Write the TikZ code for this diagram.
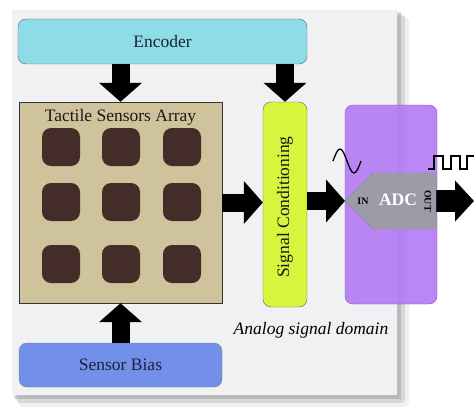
\documentclass[tikz,border=0pt]{standalone}
\usepackage{fontspec}
\setmainfont{Liberation Serif}
\usetikzlibrary{arrows.meta}
\definecolor{panelgray}{HTML}{F0F1F3}
\definecolor{enccyan}{HTML}{8DDCE6}
\definecolor{arrtan}{HTML}{CEC39B}
\definecolor{cellbrown}{HTML}{442D28}
\definecolor{siglime}{HTML}{D6F53D}
\definecolor{adcpurple}{HTML}{B47AF6}
\definecolor{adcgray}{HTML}{9D9BA8}
\definecolor{biasblue}{HTML}{7290E9}
\definecolor{inkblue}{HTML}{1C2238}

\begin{document}
\begin{tikzpicture}[x=1pt,y=-1pt]
\tikzstyle{block}=[rounded corners=8pt,inner sep=0pt,text=inkblue,font=\fontsize{17.5}{20}\selectfont]
\tikzstyle{cell}=[rounded corners=9pt,fill=cellbrown,minimum size=38pt,inner sep=0pt]
\tikzstyle{fat}=[line width=18pt,-{Triangle[width=42pt,length=19pt]}]
\useasboundingbox (0,0) rectangle (474,420);
% background panel with a soft shadow
\fill[black,opacity=0.06,rounded corners=6pt] (18,16) rectangle (409,407);
\fill[black,opacity=0.10,rounded corners=4pt] (16,14) rectangle (405,403);
\fill[black,opacity=0.14] (14,12) rectangle (401,399);
\fill[panelgray] (12,10) rectangle (397,395);
% blocks
\node[block,draw=black!60,fill=enccyan,minimum width=289pt,minimum height=45pt] (enc) at (162.5,41.5) {Encoder};
\node[draw=black!80,fill=arrtan,minimum width=203pt,minimum height=201pt,inner sep=0pt] (arr) at (120.5,202.5) {};
\node[text=black!90,font=\fontsize{17.5}{20}\selectfont] (arrtitle) at (120.5,117) {Tactile Sensors Array};
\node[block,draw=black!60,fill=siglime,minimum width=44pt,minimum height=205pt] (sig) at (285,204.5) {};
\node[rotate=90,text=black!90,font=\fontsize{17.5}{20}\selectfont] (sigtext) at (285,207) {Signal Conditioning};
\node[block,draw=adcpurple!70!black,fill=adcpurple,fill opacity=0.9,minimum width=92pt,minimum height=199pt] (dom) at (391,204.5) {};
\node[block,draw=black!50,fill=biasblue,minimum width=203pt,minimum height=44pt] (bias) at (120.5,365) {Sensor Bias};
% sensor cells
\node[cell] (s1) at (61,147) {};
\node[cell] (s2) at (121,147) {};
\node[cell] (s3) at (182,147) {};
\node[cell] (s4) at (61,202) {};
\node[cell] (s5) at (121,202) {};
\node[cell] (s6) at (182,202) {};
\node[cell] (s7) at (61,264) {};
\node[cell] (s8) at (121,264) {};
\node[cell] (s9) at (182,264) {};
% arrows
\coordinate (adcin) at (345,201);
\coordinate (adcout) at (436,201);
\coordinate (outend) at (474,201);
\draw[fat] (enc.south -| arr.north) -- (arr.north);
\draw[fat] (enc.south -| sig.north) -- (sig.north);
\draw[fat] (bias.north) -- (arr.south);
\draw[fat] (arr.east) -- (arr.east -| sig.west);
\draw[fat] (sig.east |- adcin) -- (adcin);
\draw[line width=22pt,-{Triangle[width=40pt,length=19pt]}] (adcout) -- (outend);
% ADC
\filldraw[draw=black!45,fill=adcgray] (adcin) -- (373,173) -- (436,173) -- (436,229) -- (373,229) -- cycle;
\node[text=white,font=\bfseries\fontsize{17.5}{20}\selectfont] (adclabel) at (398,200) {ADC};
\node[font=\bfseries\fontsize{10}{12}\selectfont] (inlabel) at (363,201) {IN};
\node[rotate=-90,font=\bfseries\fontsize{10}{12}\selectfont] (outlabel) at (428,201) {OUT};
% waveforms
\draw[line width=1.3pt] (333,161) sin (340,149) cos (347,161) sin (354,173) cos (361,161);
\draw[line width=1.2pt] (428,169) -- (434,169) -- (434,156) -- (443,156) -- (443,169) -- (451,169) -- (451,156) -- (460,156) -- (460,169) -- (467,169) -- (467,156) -- (474,156);
\node[font=\itshape\fontsize{17.5}{20}\selectfont] (domlabel) at (311,330) {Analog signal domain};
\end{tikzpicture}
\end{document}
